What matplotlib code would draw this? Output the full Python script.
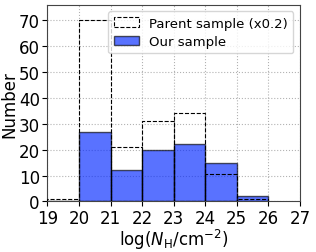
import numpy as np
import matplotlib
matplotlib.use("Agg")
import matplotlib.pyplot as plt

# bin edges in log(N_H)
bin_edges = [19, 20, 21, 22, 23, 24, 25, 26]
# parent sample counts, already scaled by 0.2
parent_counts = [1.0, 70, 21, 31.2, 34, 10.6, 1.0]
# our sample counts
our_counts = [0, 27, 12, 20, 22, 15, 2]

lefts = np.array(bin_edges[:-1])
widths = np.diff(bin_edges)

fig = plt.figure(figsize=(3.16, 2.53), dpi=100)
ax = fig.add_axes([0.150, 0.20, 0.799, 0.777])

ax.bar(lefts, our_counts, width=widths, align='edge',
       color=(0.0, 0.15, 1.0), alpha=0.65, edgecolor='black', linewidth=1.0,
       label='Our sample', zorder=2)
ax.bar(lefts, parent_counts, width=widths, align='edge',
       fill=False, edgecolor='black', linestyle='--', linewidth=0.8,
       label='Parent sample (x0.2)', zorder=3)

ax.set_xlim(19, 27)
ax.set_ylim(0, 76)
ax.set_xticks(range(19, 28))
ax.set_yticks(range(0, 71, 10))
ax.tick_params(labelsize=12, pad=2)
ax.grid(True, linestyle=':', color='grey', alpha=0.6, zorder=0)
ax.set_axisbelow(True)
for s in ax.spines.values():
    s.set_color('#444444')

ax.set_xlabel(r'log($N_{\rm H}$/cm$^{-2}$)', fontsize=12, labelpad=0)
ax.set_ylabel('Number', fontsize=12, labelpad=0)

handles, labels = ax.get_legend_handles_labels()
ax.legend(handles[::-1], labels[::-1], loc='upper right', fontsize=9.5,
          handlelength=1.9, borderpad=0.4, labelspacing=0.4)

fig.savefig('out.png', dpi=100)
